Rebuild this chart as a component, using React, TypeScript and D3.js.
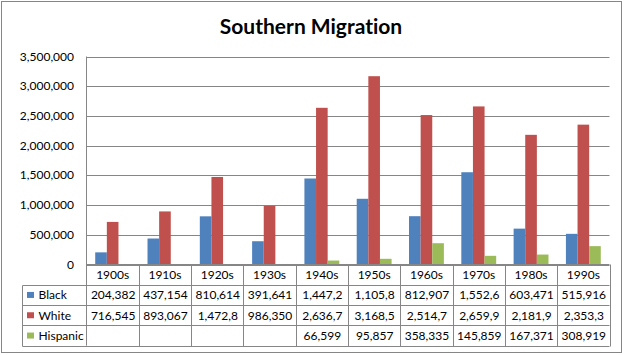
import React from "react";
import * as d3 from "d3";

const categories = ["1900s", "1910s", "1920s", "1930s", "1940s", "1950s", "1960s", "1970s", "1980s", "1990s"];
const seriesNames = ["Black", "White", "Hispanic"];
const black = [204382, 437154, 810614, 391641, 1447200, 1105800, 812907, 1552600, 603471, 515916];
const white = [716545, 893067, 1472800, 986350, 2636700, 3168500, 2514700, 2659900, 2181900, 2353300];
const hispanic: (number | null)[] = [null, null, null, null, 66599, 95857, 358335, 145859, 167371, 308919];
const yTicks = [0, 500000, 1000000, 1500000, 2000000, 2500000, 3000000, 3500000];
const colors = ["#4F81BD", "#C0504D", "#9BBB59"];
const title = "Southern Migration";

const W = 625;
const H = 355;
const plotL = 86.5;
const plotR = 609.5;
const plotT = 56.5;
const plotB = 264.5;
const rowH = 20.3;
const legendL = 22.5;
const grid = "#868686";
const font = "Lato, 'DejaVu Sans', sans-serif";

export default function App() {
  const series = [black, white, hispanic];
  const y = d3.scaleLinear().domain([0, 3500000]).range([plotB, plotT]);
  const x0 = d3.scaleBand<string>().domain(categories).range([plotL, plotR]).paddingInner(0).paddingOuter(0);
  const x1 = d3.scaleBand<string>().domain(seriesNames).range([0, x0.bandwidth()]).paddingInner(0).paddingOuter(0.75);
  const fmtTick = d3.format(",");
  const cellText = (v: number | null) => {
    if (v == null) return "";
    const s = d3.format(",")(v);
    return s.length > 7 ? s.slice(0, 7) : s;
  };
  const tableBottom = plotB + rowH * 4;

  return (
    <svg width={W} height={H} style={{ position: "absolute", left: 0, top: 0, fontVariantLigatures: "none" }}>
      <rect x={0} y={0} width={W} height={H} fill="#fff" />
      <rect x={1.5} y={1.5} width={620} height={351} fill="none" stroke={grid} strokeWidth={1} />
      <text x={311} y={34} textAnchor="middle" fontFamily={font} fontWeight="bold" fontSize={21} fill="#000">
        {title}
      </text>
      {yTicks.map((t) => (
        <line key={t} x1={plotL} x2={plotR} y1={Math.round(y(t)) + 0.5} y2={Math.round(y(t)) + 0.5} stroke={grid} strokeWidth={1} />
      ))}
      {yTicks.map((t) => (
        <text key={"l" + t} x={74} y={y(t) + 4} textAnchor="end" fontFamily={font} fontSize={12} fill="#000">
          {fmtTick(t)}
        </text>
      ))}
      {categories.map((c, i) =>
        series.map((s, j) => {
          const v = s[i];
          if (v == null) return null;
          const bx = (x0(c) as number) + (x1(seriesNames[j]) as number);
          return (
            <rect key={c + j} x={bx} y={y(v)} width={x1.bandwidth()} height={plotB - y(v)} fill={colors[j]} />
          );
        })
      )}
      <line x1={plotL} x2={plotL} y1={plotT} y2={tableBottom} stroke={grid} />
      <line x1={plotL} x2={plotR} y1={plotB} y2={plotB} stroke={grid} />
      {[1, 2, 3, 4].map((r) => (
        <line key={"h" + r} x1={legendL} x2={plotR} y1={Math.round(plotB + rowH * r) + 0.5} y2={Math.round(plotB + rowH * r) + 0.5} stroke={grid} />
      ))}
      <line x1={legendL} x2={legendL} y1={Math.round(plotB + rowH) + 0.5} y2={Math.round(tableBottom) + 0.5} stroke={grid} />
      {categories.map((c) => {
        const xx = Math.round((x0(c) as number) + x0.bandwidth()) + 0.5;
        return <line key={"v" + c} x1={xx} x2={xx} y1={plotB} y2={Math.round(tableBottom) + 0.5} stroke={grid} />;
      })}
      {categories.map((c) => (
        <text key={"c" + c} x={(x0(c) as number) + x0.bandwidth() / 2} y={plotB + rowH / 2 + 4.5} textAnchor="middle" fontFamily={font} fontSize={12} fill="#000">
          {c}
        </text>
      ))}
      {seriesNames.map((name, j) => {
        const cy = plotB + rowH * (j + 1) + rowH / 2;
        return (
          <g key={name}>
            <rect x={27} y={cy - 3} width={7} height={6} fill={colors[j]} />
            <text x={38.5} y={cy + 4.5} fontFamily={font} fontSize={12} fill="#000">
              {name}
            </text>
            {categories.map((c, i) => (
              <text key={c} x={(x0(c) as number) + x0.bandwidth() / 2 + 0.5} y={cy + 4.5} textAnchor="middle" fontFamily={font} fontSize={12} fill="#000">
                {cellText(series[j][i])}
              </text>
            ))}
          </g>
        );
      })}
    </svg>
  );
}
